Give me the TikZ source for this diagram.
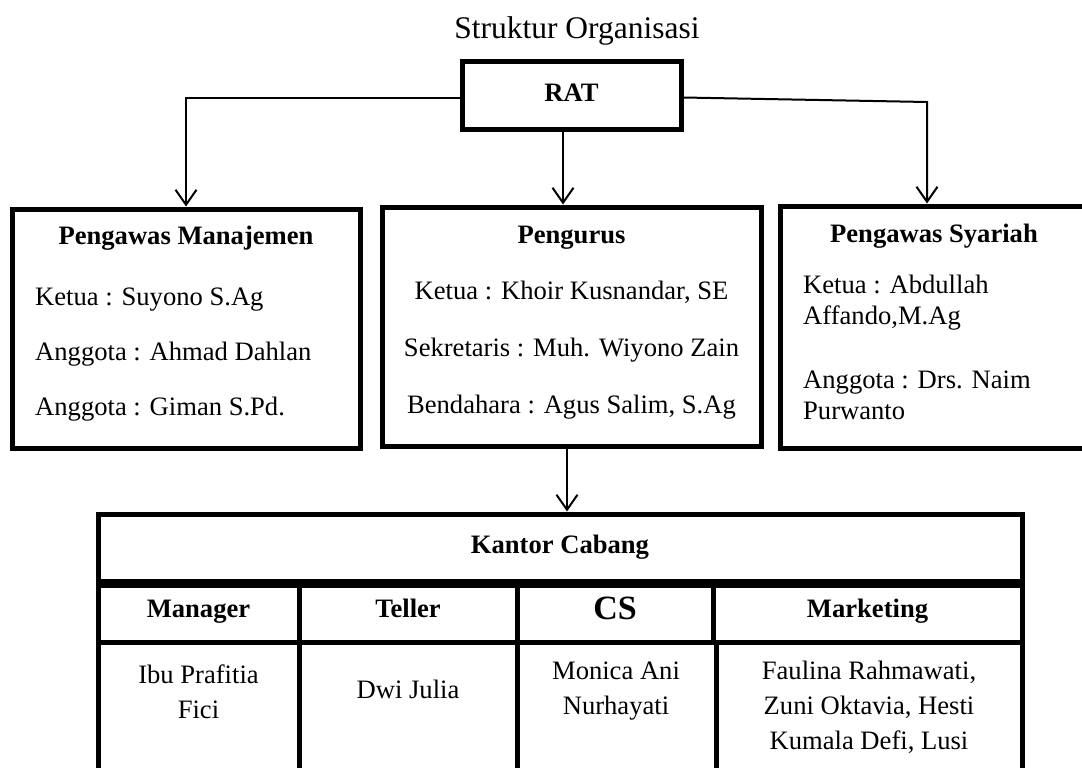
\documentclass[tikz,border=0pt]{standalone}
\usepackage{fontspec}
\setmainfont{Liberation Serif}
\usetikzlibrary{arrows.meta,positioning}

\begin{document}
\begin{tikzpicture}[
  x=1pt, y=-1pt,
  every node/.style={font=\fontsize{26.6}{31}\selectfont, inner sep=0pt, text height=18pt, text depth=6pt},
  multi/.style={align=left, text height=, text depth=},
  box/.style={draw, line width=5pt, rectangle},
  cell/.style={draw, line width=5pt, rectangle},
  head/.style={font=\fontsize{26.6}{31}\selectfont\bfseries},
  link/.style={draw, line width=2pt, ->},
  >={Straight Barb[length=15pt, width=21pt]}
]
\useasboundingbox (0,0) rectangle (1082,768);

\node[font=\fontsize{31.5}{36}\selectfont] (title) at (577,33) {Struktur Organisasi};

% top level
\node[box, head, minimum width=219pt, minimum height=67pt] (rat) at (571.5,95.5) {RAT};

% second level boxes
\node[box, minimum width=348pt, minimum height=239pt] (pm) at (186,328.5) {};
\node[box, minimum width=379pt, minimum height=239pt] (pg) at (571.5,326.5) {};
\node[box, minimum width=308pt, minimum height=242pt] (ps) at (934,327) {};

\node[head] (pmhead) at (186,238) {Pengawas Manajemen};
\node[anchor=west] (pm1) at (35,299) {Ketua : Suyono S.Ag};
\node[anchor=west] (pm2) at (35,354) {Anggota : Ahmad Dahlan};
\node[anchor=west] (pm3) at (35,409) {Anggota : Giman S.Pd.};

\node[head] (pghead) at (571.5,237) {Pengurus};
\node (pg1) at (571.5,293) {Ketua : Khoir Kusnandar, SE};
\node (pg2) at (571.5,350) {Sekretaris : Muh. Wiyono Zain};
\node (pg3) at (571.5,407) {Bendahara : Agus Salim, S.Ag};

\node[head] (pshead) at (934,236) {Pengawas Syariah};
\node[multi, anchor=west] (ps1) at (803,303) {Ketua : Abdullah\\Affando,M.Ag};
\node[multi, anchor=west] (ps2) at (803,395) {Anggota : Drs. Naim\\Purwanto};

% connectors from RAT
\coordinate (ratr) at (927,102);
\draw[link] ([yshift=-2pt]rat.west) -| (pm.north);
\draw[link] ([yshift=-2pt]rat.east) -- (ratr) -- (ratr |- ps.north);
\draw[link] ([xshift=-8.5pt]rat.south) -- ([xshift=-8.5pt]rat.south |- pg.north);

% Kantor Cabang table
\node[cell, head, minimum width=924pt, minimum height=67pt] (kc) at (560,547.5) {Kantor Cabang};
\node[cell, head, minimum width=201pt, minimum height=61pt] (mgr) at (198.5,611.5) {Manager};
\node[cell, head, minimum width=218pt, minimum height=61pt] (tel) at (408,611.5) {Teller};
\node[cell, head, font=\fontsize{34}{40}\selectfont\bfseries, text height=23pt, text depth=7.5pt, minimum width=196pt, minimum height=61pt] (cs) at (615,611.5) {CS};
\node[cell, head, minimum width=309pt, minimum height=61pt] (mkt) at (867.5,611.5) {Marketing};
\draw[line width=8pt] (kc.south west) -- (kc.south east);

\node[cell, minimum width=201pt, minimum height=158pt] (mgrd) at (198.5,721) {};
\node[cell, minimum width=218pt, minimum height=158pt] (teld) at (408,721) {};
\node[cell, minimum width=199pt, minimum height=158pt] (csd) at (616.5,721) {};
\node[cell, minimum width=306pt, minimum height=158pt] (mktd) at (869,721) {};

\node[multi, align=center, font=\fontsize{26.6}{35}\selectfont] (mgrtxt) at (198.5,691.5) {Ibu Prafitia\\Fici};
\node (teltxt) at (408,692) {Dwi Julia};
\node[multi, align=center, font=\fontsize{26.6}{35}\selectfont] (cstxt) at (616,691.5) {Monica Ani\\Nurhayati};
\node[multi, align=center, font=\fontsize{26.6}{35}\selectfont] (mkttxt) at (869,707.5) {Faulina Rahmawati,\\Zuni Oktavia, Hesti\\Kumala Defi, Lusi};

\draw[link] ([xshift=-4.5pt]pg.south) -- ([xshift=-4.5pt]pg.south |- kc.north);

\end{tikzpicture}
\end{document}
